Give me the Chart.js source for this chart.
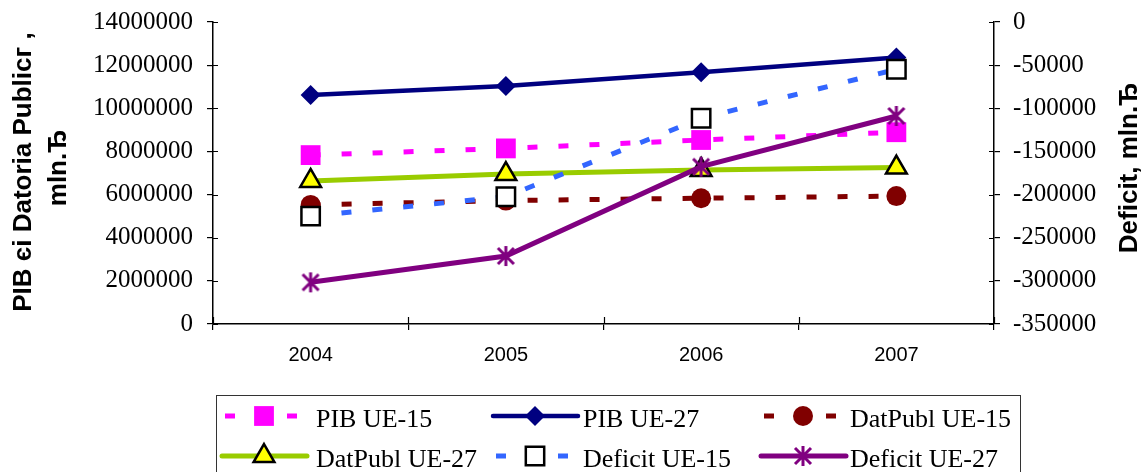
<!DOCTYPE html>
<html>
<head>
<meta charset="utf-8">
<script src="https://cdn.jsdelivr.net/npm/chart.js@4.4.1/dist/chart.umd.min.js"></script>
<style>
  html, body { margin: 0; padding: 0; background: #fff; }
  #wrap { width: 1144px; height: 472px; position: relative; }
</style>
</head>
<body>
<div id="wrap"><canvas id="c"></canvas></div>
<script>
// ---- data ----
const years = ['2004', '2005', '2006', '2007'];
const seriesNames = ['PIB UE-15', 'PIB UE-27', 'DatPubl UE-15', 'DatPubl UE-27', 'Deficit UE-15', 'Deficit UE-27'];
const pibUE15 = [7830000, 8140000, 8530000, 8890000];
const pibUE27 = [10620000, 11030000, 11670000, 12350000];
const datPublUE15 = [5520000, 5720000, 5830000, 5930000];
const datPublUE27 = [6630000, 6950000, 7140000, 7250000];
const deficitUE15 = [-225000, -202500, -111600, -54800];
const deficitUE27 = [-301700, -271200, -167700, -108900];
const leftTitle = ['PIB єi Datoria Publicг ,', 'mln.Ђ'];
const rightTitle = 'Deficit, mln.Ђ';

// custom asterisk marker (6 arms)
function makeStar(size, color, lw) {
  const cv = document.createElement('canvas');
  cv.width = size; cv.height = size;
  const c = cv.getContext('2d');
  drawStar(c, size / 2, size / 2, size / 2 - 1, color, lw);
  return cv;
}
function drawStar(c, x, y, r, color, lw) {
  c.save();
  c.strokeStyle = color; c.lineWidth = lw; c.lineCap = 'butt';
  c.beginPath();
  c.moveTo(x, y - r); c.lineTo(x, y + r);
  const d = r * 0.8;
  c.moveTo(x - d, y - d); c.lineTo(x + d, y + d);
  c.moveTo(x + d, y - d); c.lineTo(x - d, y + d);
  c.stroke();
  c.restore();
}
const starImg = makeStar(22, '#800080', 3);

const styles = [
  { color: '#FF00FF', dash: [10, 21], width: 5, point: 'rect', radius: 14, bg: '#FF00FF', pb: '#FF00FF', pbw: 0 },
  { color: '#000080', dash: [], width: 4.5, point: 'rectRot', radius: 10, bg: '#000080', pb: '#000080', pbw: 0 },
  { color: '#800000', dash: [10, 21], width: 5, point: 'circle', radius: 10, bg: '#800000', pb: '#800000', pbw: 0 },
  { color: '#99CC00', dash: [], width: 5, point: 'triangle', radius: 12, bg: '#FFFF00', pb: '#000000', pbw: 2.5 },
  { color: '#3366FF', dash: [10, 21], width: 5, point: 'rect', radius: 13, bg: '#FFFFFF', pb: '#000000', pbw: 2.5 },
  { color: '#800080', dash: [], width: 5, point: starImg, radius: 11, bg: '#800080', pb: '#800080', pbw: 0 }
];
const seriesData = [pibUE15, pibUE27, datPublUE15, datPublUE27, deficitUE15, deficitUE27];
const axisOf = ['y', 'y', 'y', 'y', 'y1', 'y1'];

const datasets = seriesData.map((d, i) => ({
  label: seriesNames[i],
  data: d,
  yAxisID: axisOf[i],
  borderColor: styles[i].color,
  borderWidth: styles[i].width,
  borderDash: styles[i].dash,
  borderCapStyle: 'butt',
  tension: 0,
  fill: false,
  pointStyle: styles[i].point,
  pointRadius: styles[i].radius,
  pointHoverRadius: styles[i].radius,
  pointBackgroundColor: styles[i].bg,
  pointBorderColor: styles[i].pb,
  pointBorderWidth: styles[i].pbw,
  order: 10 - i
}));

function drawMarker(c, i, x, y) {
  const s = styles[i];
  c.save();
  c.fillStyle = s.bg; c.strokeStyle = s.pb; c.lineWidth = s.pbw;
  c.setLineDash([]);
  const r = s.radius;
  c.beginPath();
  if (s.point === 'rect') {
    const h = Math.SQRT1_2 * r;
    c.rect(x - h, y - h, 2 * h, 2 * h);
  } else if (s.point === 'rectRot') {
    c.moveTo(x, y - r); c.lineTo(x + r, y); c.lineTo(x, y + r); c.lineTo(x - r, y); c.closePath();
  } else if (s.point === 'circle') {
    c.arc(x, y, r, 0, Math.PI * 2);
  } else if (s.point === 'triangle') {
    c.moveTo(x, y - r);
    c.lineTo(x + r * Math.sin(Math.PI * 2 / 3), y - r * Math.cos(Math.PI * 2 / 3));
    c.lineTo(x + r * Math.sin(Math.PI * 4 / 3), y - r * Math.cos(Math.PI * 4 / 3));
    c.closePath();
  } else {
    c.restore();
    drawStar(c, x, y, 10, '#800080', 3);
    return;
  }
  c.fill();
  if (s.pbw > 0) c.stroke();
  c.restore();
}

const decorPlugin = {
  id: 'decor',
  afterDraw(chart) {
    const c = chart.ctx;
    const a = chart.chartArea;
    c.save();
    // inner parts of tick marks
    c.strokeStyle = '#000'; c.lineWidth = 1.2;
    const ys = chart.scales.y, y1 = chart.scales.y1, xs = chart.scales.x;
    c.beginPath();
    ys.ticks.forEach((t, k) => { const p = Math.round(ys.getPixelForTick(k)) + 0.5; c.moveTo(a.left, p); c.lineTo(a.left + 5, p); });
    y1.ticks.forEach((t, k) => { const p = Math.round(y1.getPixelForTick(k)) + 0.5; c.moveTo(a.right - 5, p); c.lineTo(a.right, p); });
    const n = xs.ticks.length;
    for (let k = 0; k <= n; k++) {
      const p = Math.round(a.left + (a.right - a.left) * k / n) + 0.5;
      c.moveTo(p, a.bottom - 7); c.lineTo(p, a.bottom);
    }
    c.stroke();

    // axis titles
    c.fillStyle = '#000';
    c.font = 'bold 26px "Liberation Sans", Arial, sans-serif';
    c.textAlign = 'center'; c.textBaseline = 'middle';
    c.save(); c.translate(24, 172); c.rotate(-Math.PI / 2); c.fillText(leftTitle[0], 0, 0); c.restore();
    c.save(); c.translate(59, 168); c.rotate(-Math.PI / 2); c.fillText(leftTitle[1], 0, 0); c.restore();
    c.save(); c.translate(1130, 168); c.rotate(-Math.PI / 2); c.fillText(rightTitle, 0, 0); c.restore();

    // legend
    c.strokeStyle = '#333'; c.lineWidth = 1;
    c.strokeRect(216.5, 395.5, 804, 90);
    const colC = [264, 535, 803];
    const colT = [316, 583, 850];
    const rowY = [416, 456];
    c.font = '26px "Liberation Serif", "Times New Roman", serif';
    c.textAlign = 'left'; c.textBaseline = 'alphabetic';
    for (let i = 0; i < 6; i++) {
      const col = i % 3, row = Math.floor(i / 3);
      const cx = colC[col], cy = rowY[row];
      const s = styles[i];
      c.save();
      c.strokeStyle = s.color; c.lineWidth = s.width; c.lineCap = 'butt';
      if (s.dash.length) {
        c.beginPath();
        c.moveTo(cx - 39, cy); c.lineTo(cx - 29, cy);
        c.moveTo(cx + 23, cy); c.lineTo(cx + 33, cy);
        c.stroke();
      } else {
        c.lineCap = 'round';
        c.beginPath(); c.moveTo(cx - 42, cy); c.lineTo(cx + 43, cy); c.stroke();
      }
      c.restore();
      drawMarker(c, i, cx, cy);
      c.fillStyle = '#000';
      c.fillText(seriesNames[i], colT[col], cy + 11);
    }
    c.restore();
  }
};

const tickFontSerif = { family: '"Liberation Serif", "Times New Roman", serif', size: 25 };

new Chart(document.getElementById('c'), {
  type: 'line',
  data: { labels: years, datasets: datasets },
  options: {
    responsive: true,
    maintainAspectRatio: false,
    animation: false,
    events: [],
    layout: { padding: { top: 22, left: 0, right: 0, bottom: 0 } },
    plugins: { legend: { display: false }, tooltip: { enabled: false }, title: { display: false } },
    scales: {
      x: {
        type: 'category',
        offset: true,
        grid: { display: true, offset: true, drawOnChartArea: false, drawTicks: true, tickLength: 6, color: '#000', lineWidth: 1.2 },
        border: { display: true, color: '#000', width: 1.5 },
        ticks: { color: '#000', font: { family: '"Liberation Sans", Arial, sans-serif', size: 20 }, padding: 13, maxRotation: 0 },
        afterFit(s) { s.height = 148; s.paddingLeft = 0; s.paddingRight = 0; }
      },
      y: {
        position: 'left',
        min: 0, max: 14000000,
        grid: { display: true, drawOnChartArea: false, drawTicks: true, tickLength: 6, color: '#000', lineWidth: 1.2 },
        border: { display: true, color: '#000', width: 1.5 },
        ticks: { stepSize: 2000000, color: '#000', font: tickFontSerif, padding: 14, callback: v => String(v) },
        afterFit(s) { s.width = 213; s.paddingTop = 0; s.paddingBottom = 0; }
      },
      y1: {
        position: 'right',
        min: -350000, max: 0,
        grid: { display: true, drawOnChartArea: false, drawTicks: true, tickLength: 6, color: '#000', lineWidth: 1.2 },
        border: { display: true, color: '#000', width: 1.5 },
        ticks: { stepSize: 50000, color: '#000', font: tickFontSerif, padding: 13, callback: v => String(v) },
        afterFit(s) { s.width = 150; s.paddingTop = 0; s.paddingBottom = 0; }
      }
    }
  },
  plugins: [decorPlugin]
});
</script>
</body>
</html>
